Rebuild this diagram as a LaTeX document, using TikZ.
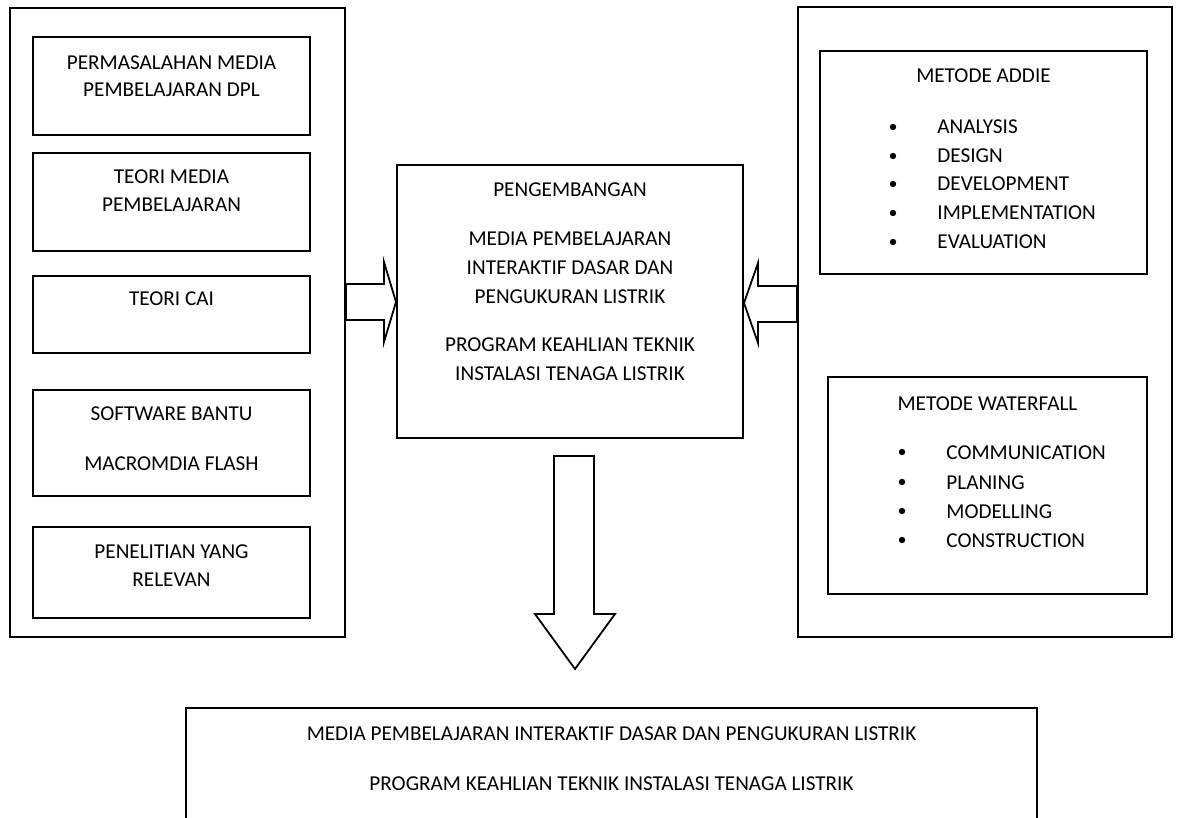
\documentclass[tikz,border=0pt]{standalone}
\usepackage{fontspec}
\setmainfont{Carlito}
\usetikzlibrary{fit,calc}
\begin{document}
\begin{tikzpicture}[x=0.5pt,y=-0.5pt,
  frame/.style={draw=black, line width=1pt, inner sep=0pt},
  inbox/.style={draw=black, line width=0.9pt, inner sep=0pt},
  txt/.style={inner sep=0pt, anchor=base, font=\fontsize{10.6}{12.7}\selectfont},
  item/.style={txt, anchor=base west},
  bullet/.style={fill=black},
  blockarrow/.style={draw=black, line width=0.9pt, fill=white, line join=miter}]

% page area
\useasboundingbox (0,0) rectangle (1179,818);
\clip (0,0) rectangle (1179,818);
\fill[white] (0,0) rectangle (1179,818);

% left column: foundations
\node[frame, fit={(10,8) (345,637)}] (lo) {};
\node[inbox, fit={(33,37) (310,135)}] (b1) {};
\node[inbox, fit={(33,153) (310,251)}] (b2) {};
\node[inbox, fit={(33,276) (310,353)}] (b3) {};
\node[inbox, fit={(33,390) (310,496)}] (b4) {};
\node[inbox, fit={(33,527) (310,618)}] (b5) {};

\node[txt] (b1a) at (171.5,70) {PERMASALAHAN MEDIA};
\node[txt] (b1b) at (171.5,97) {PEMBELAJARAN DPL};
\node[txt] (b2a) at (171.5,184) {TEORI MEDIA};
\node[txt] (b2b) at (171.5,212) {PEMBELAJARAN};
\node[txt] (b3a) at (171.5,306) {TEORI CAI};
\node[txt] (b4a) at (171.5,421) {SOFTWARE BANTU};
\node[txt] (b4b) at (171.5,470) {MACROMDIA FLASH};
\node[txt] (b5a) at (171.5,558) {PENELITIAN YANG};
\node[txt] (b5b) at (171.5,586) {RELEVAN};

% centre: development
\node[frame, fit={(397,165) (743,438)}] (ctr) {};
\node[txt] (c1) at (570,197) {PENGEMBANGAN};
\node[txt] (c2) at (570,246) {MEDIA PEMBELAJARAN};
\node[txt] (c3) at (570,275) {INTERAKTIF DASAR DAN};
\node[txt] (c4) at (570,304) {PENGUKURAN LISTRIK};
\node[txt] (c5) at (570,352) {PROGRAM KEAHLIAN TEKNIK};
\node[txt] (c6) at (570,380) {INSTALASI TENAGA LISTRIK};

% right column: methods
\node[frame, fit={(798,7) (1172,637)}] (ro) {};
\node[inbox, fit={(820,51) (1147,274)}] (addie) {};
\node[inbox, fit={(828,377) (1147,594)}] (wf) {};

\node[txt] (addiet) at (983.5,83) {METODE ADDIE};
\foreach \t/\y [count=\i] in {ANALYSIS/127, DESIGN/156, DEVELOPMENT/184, IMPLEMENTATION/213, EVALUATION/242} {
  \fill[bullet] (893,\y) circle[radius=1.6pt];
  \node[item] (addie-\i) at (937,\y+7) {\t};
}

\node[txt] (wft) at (987.5,410) {METODE WATERFALL};
\foreach \t/\y [count=\i] in {COMMUNICATION/452, PLANING/482, MODELLING/511, CONSTRUCTION/540} {
  \fill[bullet] (902,\y) circle[radius=1.6pt];
  \node[item] (wf-\i) at (946,\y+7) {\t};
}

% result
\node[frame, fit={(186,708) (1037,850)}] (out) {};
\node[txt] (o1) at (611.5,740) {MEDIA PEMBELAJARAN INTERAKTIF DASAR DAN PENGUKURAN LISTRIK};
\node[txt] (o2) at (611.5,790) {PROGRAM KEAHLIAN TEKNIK INSTALASI TENAGA LISTRIK};

% block arrows
\draw[blockarrow] (lo.east |- 0,284) -- (384,284) -- (384,262) -- (ctr.west |- 0,302)
  -- (384,342) -- (384,320) -- (lo.east |- 0,320) -- cycle;
\draw[blockarrow] (ro.west |- 0,286) -- (758,286) -- (758,263) -- (ctr.east |- 0,303)
  -- (758,343) -- (758,322) -- (ro.west |- 0,322) -- cycle;
\coordinate (dtail) at ($(ctr.south)+(4,17)$);
\draw[blockarrow] ($(dtail)+(-20,0)$) -- ($(dtail)+(20,0)$) -- ($(dtail)+(20,158)$)
  -- ($(dtail)+(41,158)$) -- ($(dtail)+(1,213)$) -- ($(dtail)+(-39,158)$)
  -- ($(dtail)+(-20,158)$) -- cycle;
\end{tikzpicture}
\end{document}
